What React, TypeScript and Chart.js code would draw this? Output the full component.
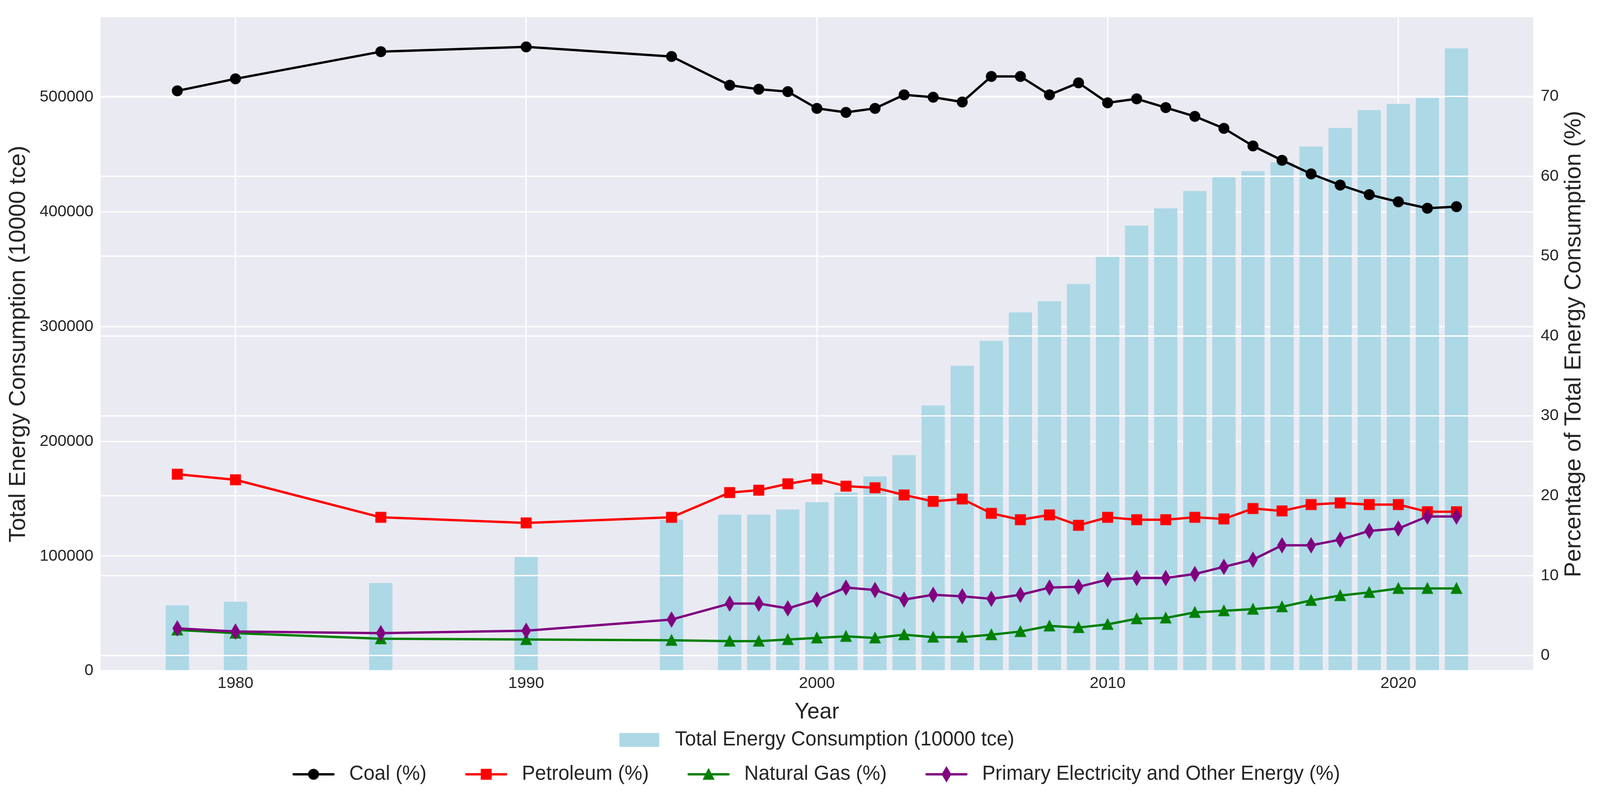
import React, { useEffect, useRef } from 'react';
import { Chart, registerables } from 'chart.js';

Chart.register(...registerables);

const years = [
  1978, 1980, 1985, 1990, 1995, 1997, 1998, 1999, 2000, 2001, 2002, 2003, 2004, 2005, 2006,
  2007, 2008, 2009, 2010, 2011, 2012, 2013, 2014, 2015, 2016, 2017, 2018, 2019, 2020, 2021, 2022,
];

// 10000 tce
const totalConsumption = [
  57100, 60200, 76500, 99200, 131600, 136100, 136100, 140500, 146900, 155300, 169500, 188000,
  231200, 265800, 287500, 312400, 322100, 337100, 361800, 388000, 403100, 418100, 430200,
  435500, 443100, 457000, 473100, 488600, 494000, 499300, 542500,
];

const coalShare = [
  70.7, 72.2, 75.6, 76.2, 75.0, 71.4, 70.9, 70.6, 68.5, 68.0, 68.5, 70.2, 69.9, 69.3, 72.5,
  72.5, 70.2, 71.7, 69.2, 69.7, 68.6, 67.5, 66.0, 63.8, 62.0, 60.3, 58.9, 57.7, 56.8, 56.0, 56.2,
];

const petroleumShare = [
  22.7, 22.0, 17.3, 16.6, 17.3, 20.4, 20.7, 21.5, 22.1, 21.2, 21.0, 20.1, 19.3, 19.6, 17.8,
  17.0, 17.6, 16.3, 17.3, 17.0, 17.0, 17.3, 17.1, 18.4, 18.1, 18.9, 19.1, 18.9, 18.9, 18.0, 18.0,
];

const gasShare = [
  3.2, 2.8, 2.1, 2.0, 1.9, 1.8, 1.8, 2.0, 2.2, 2.4, 2.2, 2.6, 2.3, 2.3, 2.6,
  3.0, 3.7, 3.5, 3.9, 4.6, 4.7, 5.4, 5.6, 5.8, 6.1, 6.9, 7.5, 7.9, 8.4, 8.4, 8.4,
];

const primaryShare = [
  3.4, 3.0, 2.8, 3.1, 4.5, 6.5, 6.5, 5.9, 7.0, 8.5, 8.2, 7.0, 7.6, 7.4, 7.1,
  7.6, 8.5, 8.6, 9.5, 9.7, 9.7, 10.2, 11.1, 12.0, 13.8, 13.8, 14.5, 15.6, 15.9, 17.4, 17.4,
];

const xTicks = [1980, 1990, 2000, 2010, 2020];
const totalTicks = [0, 100000, 200000, 300000, 400000, 500000];
const shareTicks = [0, 10, 20, 30, 40, 50, 60, 70];

const FONT = "'Liberation Sans', Arial, sans-serif";
const TEXT = '#262626';

// the layout below is measured on a 4264 x 2036 figure and scaled to the real viewport
const BASE_W = 4264;
const BASE_H = 2036;

function makeMarker(shape: string, color: string, ms: number, mew: number) {
  const size = Math.ceil(ms * 2.6);
  const c = document.createElement('canvas');
  c.width = size;
  c.height = size;
  const g = c.getContext('2d')!;
  g.translate(size / 2, size / 2);
  g.beginPath();
  const h = ms / 2;
  if (shape === 'circle') {
    g.arc(0, 0, h, 0, Math.PI * 2);
  } else if (shape === 'square') {
    g.rect(-h, -h, ms, ms);
  } else if (shape === 'triangle') {
    g.moveTo(0, -h);
    g.lineTo(-h, h);
    g.lineTo(h, h);
    g.closePath();
  } else {
    const dy = ms * Math.SQRT1_2;
    const dx = dy * 0.6;
    g.moveTo(0, -dy);
    g.lineTo(dx, 0);
    g.lineTo(0, dy);
    g.lineTo(-dx, 0);
    g.closePath();
  }
  g.fillStyle = color;
  g.strokeStyle = color;
  g.lineWidth = mew;
  g.lineJoin = 'miter';
  g.fill();
  g.stroke();
  return c;
}

export default function App() {
  const wrapRef = useRef<HTMLDivElement | null>(null);
  const chartRef = useRef<HTMLCanvasElement | null>(null);
  const chartInstanceRef = useRef<Chart | null>(null);

  useEffect(() => {
    if (chartInstanceRef.current) {
      chartInstanceRef.current.destroy();
    }
    if (!chartRef.current || !wrapRef.current) return;
    const ctx = chartRef.current.getContext('2d');
    if (!ctx) return;

    const W = wrapRef.current.clientWidth || BASE_W;
    const H = wrapRef.current.clientHeight || BASE_H;
    const sx = W / BASE_W;
    const sy = H / BASE_H;
    const s = Math.min(sx, sy);

    const gridW = 3.5 * s;
    const lineW = 6.25 * s;
    const ms = 25 * s;
    const mew = 4.2 * s;

    const span = years[years.length - 1] - years[0] + 0.8;
    const xMin = years[0] - 0.4 - span * 0.05;
    const xMax = years[years.length - 1] + 0.4 + span * 0.05;
    const yMax = Math.max(...totalConsumption) * 1.05;
    const shares = [...coalShare, ...petroleumShare, ...gasShare, ...primaryShare];
    const sLo = Math.min(...shares);
    const sHi = Math.max(...shares);
    const sPad = (sHi - sLo) * 0.05;

    const pts = (vals: number[]) => years.map((yr, i) => ({ x: yr, y: vals[i] }));
    const lineSet = (label: string, vals: number[], color: string, shape: string, order: number) => ({
      type: 'line' as const,
      label,
      data: pts(vals),
      yAxisID: 'y1',
      borderColor: color,
      backgroundColor: color,
      borderWidth: lineW,
      borderJoinStyle: 'round' as const,
      borderCapStyle: 'round' as const,
      pointStyle: makeMarker(shape, color, ms, mew),
      pointRadius: ms * 0.6,
      tension: 0,
      order,
    });

    const chartBackground = {
      id: 'chartBackground',
      beforeDraw(chart: any) {
        const { ctx: c, chartArea } = chart;
        c.save();
        c.fillStyle = '#EAEAF2';
        c.fillRect(chartArea.left, chartArea.top, chartArea.width, chartArea.height);
        c.restore();
      },
    };

    // the percentage grid sits above the bars but below the lines
    const shareGrid = {
      id: 'shareGrid',
      afterDatasetDraw(chart: any, args: any) {
        if (args.index !== 0) return;
        const { ctx: c, chartArea } = chart;
        const sc = chart.scales.y1;
        c.save();
        c.strokeStyle = '#ffffff';
        c.lineWidth = gridW;
        sc.ticks.forEach((t: any) => {
          const y = sc.getPixelForValue(t.value);
          c.beginPath();
          c.moveTo(chartArea.left, y);
          c.lineTo(chartArea.right, y);
          c.stroke();
        });
        c.restore();
      },
    };

    const rightTitle = {
      id: 'rightTitle',
      afterDraw(chart: any) {
        const { ctx: c, chartArea } = chart;
        c.save();
        c.translate(chartArea.right + 126 * sx, (chartArea.top + chartArea.bottom) / 2);
        c.rotate(-Math.PI / 2);
        c.font = `${62 * s}px ${FONT}`;
        c.fillStyle = TEXT;
        c.textAlign = 'center';
        c.textBaseline = 'alphabetic';
        c.fillText('Percentage of Total Energy Consumption (%)', 0, 0);
        c.restore();
      },
    };

    const twoRowLegend = {
      id: 'twoRowLegend',
      afterDraw(chart: any) {
        const { ctx: c, chartArea } = chart;
        const cx = (chartArea.left + chartArea.right) / 2;
        const handle = 106 * s;
        const pad = 42 * s;
        const gap = 106 * s;
        c.save();
        c.font = `${53 * s}px ${FONT}`;
        c.textBaseline = 'middle';
        c.textAlign = 'left';

        const bar = chart.data.datasets[0];
        const y1 = chartArea.bottom + 177 * sy;
        let x = cx - (handle + pad + c.measureText(bar.label).width) / 2;
        c.fillStyle = bar.backgroundColor;
        c.fillRect(x, y1 - 18.5 * s, handle, 37 * s);
        c.fillStyle = TEXT;
        c.fillText(bar.label, x + handle + pad, y1);

        const lines = chart.data.datasets.slice(1);
        const widths = lines.map((d: any) => handle + pad + c.measureText(d.label).width);
        const total = widths.reduce((a: number, b: number) => a + b, 0) + gap * (lines.length - 1);
        const y2 = chartArea.bottom + 265 * sy;
        x = cx - total / 2;
        lines.forEach((d: any, i: number) => {
          c.strokeStyle = d.borderColor;
          c.lineWidth = lineW;
          c.lineCap = 'round';
          c.beginPath();
          c.moveTo(x, y2);
          c.lineTo(x + handle, y2);
          c.stroke();
          const m = d.pointStyle;
          c.drawImage(m, x + handle / 2 - m.width / 2, y2 - m.height / 2, m.width, m.height);
          c.fillStyle = TEXT;
          c.fillText(d.label, x + handle + pad, y2);
          x += widths[i] + gap;
        });
        c.restore();
      },
    };

    Chart.defaults.font.family = FONT;
    Chart.defaults.color = TEXT;

    chartInstanceRef.current = new Chart(ctx, {
      type: 'bar',
      data: {
        datasets: [
          {
            type: 'bar',
            label: 'Total Energy Consumption (10000 tce)',
            data: pts(totalConsumption),
            yAxisID: 'y',
            backgroundColor: '#ADD8E6',
            borderWidth: 0,
            categoryPercentage: 1,
            barPercentage: 0.8,
            order: 5,
          },
          lineSet('Coal (%)', coalShare, '#000000', 'circle', 4),
          lineSet('Petroleum (%)', petroleumShare, '#FF0000', 'square', 3),
          lineSet('Natural Gas (%)', gasShare, '#008000', 'triangle', 2),
          lineSet('Primary Electricity and Other Energy (%)', primaryShare, '#800080', 'diamond', 1),
        ] as any,
      },
      options: {
        animation: false,
        responsive: true,
        maintainAspectRatio: false,
        events: [],
        layout: { padding: { top: 27 * sy, bottom: 178 * sy, left: 0, right: 0 } },
        plugins: {
          legend: { display: false },
          tooltip: { enabled: false },
        },
        scales: {
          x: {
            type: 'linear',
            min: xMin,
            max: xMax,
            offset: false,
            afterBuildTicks: (scale: any) => {
              scale.ticks = xTicks.map((value) => ({ value }));
            },
            afterFit: (scale: any) => {
              scale.height = 140 * sy;
            },
            ticks: {
              font: { size: 43 * s },
              color: TEXT,
              padding: 8 * sy,
              callback: (v: any) => String(v),
            },
            grid: { color: '#ffffff', lineWidth: gridW, drawTicks: false, offset: false },
            border: { display: false },
            title: {
              display: true,
              text: 'Year',
              font: { size: 59 * s },
              color: TEXT,
              padding: { top: 0, bottom: 0 },
            },
          },
          y: {
            type: 'linear',
            position: 'left',
            min: 0,
            max: yMax,
            afterBuildTicks: (scale: any) => {
              scale.ticks = totalTicks.map((value) => ({ value }));
            },
            afterFit: (scale: any) => {
              scale.width = 268 * sx;
            },
            ticks: {
              font: { size: 43 * s },
              color: TEXT,
              padding: 19 * sx,
              callback: (v: any) => String(v),
            },
            grid: { color: '#ffffff', lineWidth: gridW, drawTicks: false },
            border: { display: false },
            title: {
              display: true,
              text: 'Total Energy Consumption (10000 tce)',
              font: { size: 62 * s },
              color: TEXT,
              padding: { top: 12 * sx, bottom: 0 },
            },
          },
          y1: {
            type: 'linear',
            position: 'right',
            min: sLo - sPad,
            max: sHi + sPad,
            afterBuildTicks: (scale: any) => {
              scale.ticks = shareTicks.map((value) => ({ value }));
            },
            afterFit: (scale: any) => {
              scale.width = 178 * sx;
            },
            ticks: {
              font: { size: 43 * s },
              color: TEXT,
              padding: 20 * sx,
              callback: (v: any) => String(v),
            },
            grid: { display: false, drawTicks: false },
            border: { display: false },
          },
        },
      } as any,
      plugins: [chartBackground, shareGrid, rightTitle, twoRowLegend],
    });

    return () => {
      if (chartInstanceRef.current) {
        chartInstanceRef.current.destroy();
        chartInstanceRef.current = null;
      }
    };
  }, []);

  return (
    <div
      ref={wrapRef}
      style={{ position: 'fixed', left: 0, top: 0, width: '100vw', height: '100vh', background: '#ffffff' }}
    >
      <canvas ref={chartRef} />
    </div>
  );
}
